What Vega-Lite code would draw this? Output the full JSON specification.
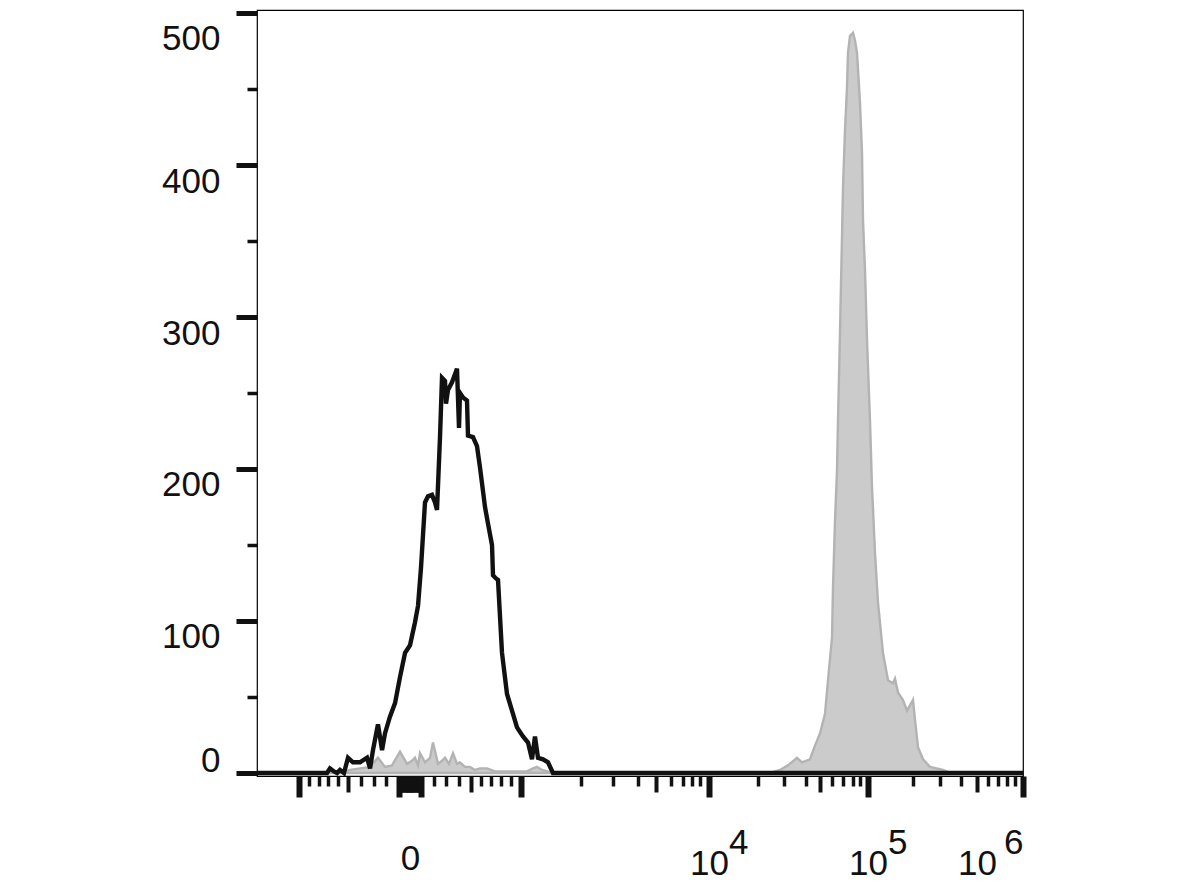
{
  "$schema": "https://vega.github.io/schema/vega-lite/v6.json",
  "autosize": "none",
  "width": 766,
  "height": 766,
  "padding": {"left": 257, "top": 10, "right": 166, "bottom": 115},
  "background": "white",
  "config": {
    "view": {"stroke": "black", "strokeWidth": 1.2},
    "axis": {"labelFont": "Liberation Sans", "labelFontSize": 35, "labelColor": "#111111", "tickColor": "#111111", "grid": false, "domain": false, "title": null, "labelOverlap": false, "labelBound": false, "tickCap": "butt"}
  },
  "datasets": {
    "control": [
      {"x": -1430, "count": 0}, {"x": -786, "count": 0}, {"x": -714, "count": 0}, {"x": -684, "count": 3}, {"x": -643, "count": 1}, {"x": -612, "count": 0}, {"x": -582, "count": 2}, {"x": -541, "count": 0}, {"x": -500, "count": 10}, {"x": -461, "count": 7}, {"x": -406, "count": 7}, {"x": -351, "count": 10}, {"x": -327, "count": 3}, {"x": -304, "count": 15}, {"x": -265, "count": 32}, {"x": -233, "count": 15}, {"x": -210, "count": 26}, {"x": -171, "count": 37}, {"x": -131, "count": 46}, {"x": -91, "count": 63}, {"x": -45, "count": 79}, {"x": 0, "count": 84}, {"x": 45, "count": 99}, {"x": 73, "count": 110}, {"x": 100, "count": 135}, {"x": 132, "count": 178}, {"x": 156, "count": 182}, {"x": 188, "count": 183}, {"x": 212, "count": 178}, {"x": 228, "count": 173}, {"x": 252, "count": 221}, {"x": 268, "count": 260}, {"x": 292, "count": 258}, {"x": 300, "count": 243}, {"x": 316, "count": 252}, {"x": 348, "count": 257}, {"x": 388, "count": 266}, {"x": 404, "count": 227}, {"x": 412, "count": 250}, {"x": 436, "count": 247}, {"x": 468, "count": 245}, {"x": 476, "count": 222}, {"x": 520, "count": 221}, {"x": 560, "count": 215}, {"x": 590, "count": 201}, {"x": 640, "count": 175}, {"x": 670, "count": 164}, {"x": 710, "count": 150}, {"x": 720, "count": 130}, {"x": 750, "count": 128}, {"x": 770, "count": 127}, {"x": 810, "count": 79}, {"x": 860, "count": 52}, {"x": 910, "count": 41}, {"x": 960, "count": 30}, {"x": 1033, "count": 24}, {"x": 1117, "count": 20}, {"x": 1183, "count": 9}, {"x": 1233, "count": 24}, {"x": 1283, "count": 10}, {"x": 1367, "count": 9}, {"x": 1450, "count": 7}, {"x": 1533, "count": 0}, {"x": 1000000, "count": 0}
    ],
    "sample": [
      {"x": -1430, "count": 0}, {"x": -582, "count": 0}, {"x": -484, "count": 2}, {"x": -406, "count": 3}, {"x": -327, "count": 4}, {"x": -265, "count": 10}, {"x": -210, "count": 4}, {"x": -155, "count": 5}, {"x": -91, "count": 14}, {"x": -27, "count": 6}, {"x": 18, "count": 8}, {"x": 45, "count": 10}, {"x": 73, "count": 5}, {"x": 91, "count": 13}, {"x": 132, "count": 7}, {"x": 172, "count": 10}, {"x": 196, "count": 20}, {"x": 236, "count": 6}, {"x": 268, "count": 8}, {"x": 292, "count": 10}, {"x": 324, "count": 6}, {"x": 356, "count": 13}, {"x": 388, "count": 6}, {"x": 412, "count": 7}, {"x": 452, "count": 4}, {"x": 492, "count": 4}, {"x": 540, "count": 2}, {"x": 590, "count": 3}, {"x": 660, "count": 3}, {"x": 740, "count": 1}, {"x": 890, "count": 1}, {"x": 1100, "count": 1}, {"x": 1200, "count": 3}, {"x": 1267, "count": 4}, {"x": 1350, "count": 2}, {"x": 1533, "count": 0}, {"x": 24615, "count": 0}, {"x": 28462, "count": 2}, {"x": 31818, "count": 5}, {"x": 35909, "count": 10}, {"x": 38182, "count": 7}, {"x": 42857, "count": 9}, {"x": 46429, "count": 18}, {"x": 50000, "count": 26}, {"x": 54167, "count": 39}, {"x": 56667, "count": 61}, {"x": 60000, "count": 89}, {"x": 60909, "count": 122}, {"x": 62727, "count": 166}, {"x": 64545, "count": 199}, {"x": 65455, "count": 232}, {"x": 67273, "count": 290}, {"x": 69091, "count": 353}, {"x": 70000, "count": 385}, {"x": 72000, "count": 423}, {"x": 74000, "count": 451}, {"x": 75000, "count": 474}, {"x": 77000, "count": 485}, {"x": 80000, "count": 487}, {"x": 82857, "count": 482}, {"x": 85714, "count": 474}, {"x": 90000, "count": 441}, {"x": 92500, "count": 408}, {"x": 93750, "count": 364}, {"x": 96250, "count": 331}, {"x": 98750, "count": 285}, {"x": 104444, "count": 232}, {"x": 108889, "count": 188}, {"x": 115556, "count": 145}, {"x": 122222, "count": 112}, {"x": 133333, "count": 79}, {"x": 144444, "count": 61}, {"x": 155556, "count": 59}, {"x": 160000, "count": 62}, {"x": 166667, "count": 53}, {"x": 177778, "count": 48}, {"x": 186667, "count": 41}, {"x": 200000, "count": 48}, {"x": 207407, "count": 35}, {"x": 218519, "count": 17}, {"x": 237037, "count": 9}, {"x": 262963, "count": 4}, {"x": 314286, "count": 2}, {"x": 347619, "count": 0}, {"x": 1000000, "count": 0}
    ]
  },
  "encoding": {
    "x": {
      "field": "x", "type": "quantitative",
      "scale": {
        "domain": [-1430, -1000, -500, -100, 0, 100, 500, 1000, 2000, 3000, 4000, 5000, 6000, 7000, 8000, 9000, 10000, 20000, 30000, 40000, 50000, 60000, 70000, 80000, 90000, 100000, 200000, 300000, 400000, 500000, 600000, 700000, 800000, 900000, 1000000],
        "range": [0, 42, 91, 142, 153, 164, 214, 264, 324, 356, 381, 399, 414, 426, 435, 443, 452, 501, 527, 549, 563, 575, 586, 596, 603, 611, 656, 683, 704, 720, 731, 741, 750, 758, 766],
        "nice": false, "zero": false, "clamp": false
      },
      "axis": {
        "orient": "bottom",
        "values": [-1000, -900, -800, -700, -600, -500, -400, -300, -200, -100, -90, -80, -70, -60, -50, -40, -30, -20, -10, 0, 10, 20, 30, 40, 50, 60, 70, 80, 90, 100, 200, 300, 400, 500, 600, 700, 800, 900, 1000, 2000, 3000, 4000, 5000, 6000, 7000, 8000, 9000, 10000, 20000, 30000, 40000, 50000, 60000, 70000, 80000, 90000, 100000, 200000, 300000, 400000, 500000, 600000, 700000, 800000, 900000, 1000000],
        "tickSize": {"condition": [
          {"test": "abs(datum.value) == 100 || abs(datum.value) == 1000 || datum.value == 10000 || datum.value == 100000 || datum.value == 1000000", "value": 21},
          {"test": "abs(datum.value) < 100 || abs(datum.value) == 500 || datum.value == 5000 || datum.value == 50000 || datum.value == 500000", "value": 16}
        ], "value": 10},
        "tickWidth": {"condition": [
          {"test": "abs(datum.value) == 100 || abs(datum.value) == 1000 || datum.value == 10000 || datum.value == 100000 || datum.value == 1000000", "value": 6},
          {"test": "abs(datum.value) < 100 || abs(datum.value) == 500 || datum.value == 5000 || datum.value == 50000 || datum.value == 500000", "value": 4}
        ], "value": 3.5},
        "labelExpr": "datum.value == 0 ? ['', '0'] : datum.value == 10000 ? ['\u200b\u00a0\u00a0\u00a0\u00a0\u00a0\u00a04', '10'] : datum.value == 100000 ? ['\u200b\u00a0\u00a0\u00a0\u00a0\u00a0\u00a05', '10'] : datum.value == 1000000 ? ['6', '10\u00a0\u00a0\u2009\u200b'] : ''",
        "labelAlign": {"condition": {"test": "datum.value == 1000000", "value": "right"}, "value": "center"},
        "labelBaseline": "top",
        "labelLineHeight": 21,
        "labelPadding": 28
      }
    }
  },
  "layer": [
    {
      "data": {"name": "sample"},
      "mark": {"type": "area", "color": "#cbcbcb", "stroke": "#b3b3b3", "strokeWidth": 2.4, "opacity": 1},
      "encoding": {
        "y": {"field": "count", "type": "quantitative",
          "scale": {"domain": [-2, 502], "nice": false, "zero": false},
          "axis": {
            "values": [0, 25, 50, 75, 100, 125, 150, 175, 200, 225, 250, 275, 300, 325, 350, 375, 400, 425, 450, 475, 500],
            "tickSize": {"condition": {"test": "datum.value % 100 == 0", "value": 21}, "value": 10},
            "tickWidth": {"condition": {"test": "datum.value % 100 == 0", "value": 5}, "value": 3.5},
            "labelExpr": "datum.value % 100 == 0 ? datum.label : ''",
            "labelBaseline": {"condition": {"test": "datum.value == 0", "value": "alphabetic"}, "value": "top"},
            "labelOffset": {"condition": {"test": "datum.value == 500", "value": 8}, "value": -1},
            "labelPadding": 16
          }
        }
      }
    },
    {
      "data": {"name": "control"},
      "mark": {"type": "line", "color": "#111111", "strokeWidth": 4.4},
      "encoding": {
        "y": {"field": "count", "type": "quantitative"}
      }
    }
  ]
}
